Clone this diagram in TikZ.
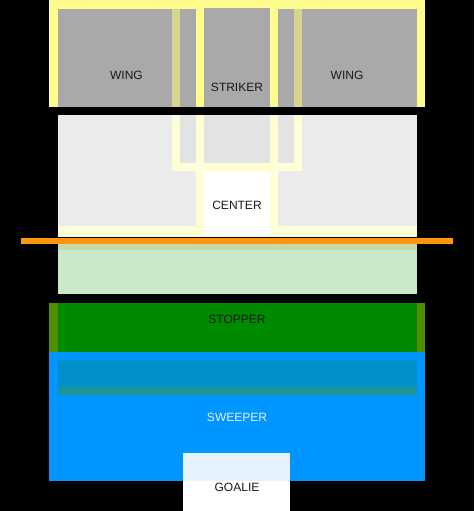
\documentclass[tikz,border=0pt]{standalone}
\usepackage{fontspec}
\setmainfont{Liberation Sans}
\usetikzlibrary{positioning}
\definecolor{pitchyellow}{HTML}{FFFC8E}
\definecolor{boxgray}{HTML}{A9A9A9}
\definecolor{stripe}{HTML}{D6D48E}
\definecolor{midgray}{HTML}{EBEBEB}
\definecolor{middark}{HTML}{E3E3E3}
\definecolor{paleyellow}{HTML}{FFFED6}
\definecolor{greenstrip}{HTML}{C3DBA9}
\definecolor{lightgreen}{HTML}{CCE8CB}
\definecolor{stopgreen}{HTML}{008A00}
\definecolor{olive}{HTML}{4F8F00}
\definecolor{sweepblue}{HTML}{0096FF}
\definecolor{bandblue}{HTML}{0090CC}
\definecolor{bandstrip}{HTML}{1F9494}
\definecolor{goalietop}{HTML}{E5F3FF}
\definecolor{halfwayorange}{HTML}{FF960F}
\tikzset{
  position/.style={font=\fontsize{12}{14}\selectfont, inner sep=0pt, text=black!90},
  halfway/.style={draw=halfwayorange, line width=6pt}
}
\newcommand\makezone{}
\def\makezone(#1)(#2)[#3]{%
  % Synopsis
  % \makezone(top left)(bottom right)[fill colour]
  \fill[#3] (#1) rectangle (#2);
}

\begin{document}
\begin{tikzpicture}[x=1pt, y=-1pt]
  \fill[black] (0,0) rectangle (474,511);
  % attack
  \makezone(49,0)(425,107)[pitchyellow]
  \makezone(58,9)(196,107)[boxgray]
  \makezone(278,9)(417,107)[boxgray]
  \makezone(204,8)(270,107)[boxgray]
  \makezone(172,9)(180,107)[stripe]
  \makezone(294,9)(302,107)[stripe]
  % midfield
  \makezone(58,115)(417,237)[paleyellow]
  \makezone(58,115)(196,226)[midgray]
  \makezone(278,115)(417,226)[midgray]
  \makezone(172,115)(180,171)[paleyellow]
  \makezone(294,115)(302,171)[paleyellow]
  \makezone(180,115)(196,163)[middark]
  \makezone(278,115)(294,163)[middark]
  \makezone(172,163)(302,171)[paleyellow]
  \makezone(196,115)(278,237)[paleyellow]
  \makezone(204,115)(270,163)[middark]
  \makezone(204,172)(270,236)[white]
  \makezone(58,243)(417,294)[lightgreen]
  \makezone(58,243)(417,250)[greenstrip]
  % defence
  \makezone(49,303)(425,352)[olive]
  \makezone(58,303)(417,352)[stopgreen]
  \makezone(49,352)(425,481)[sweepblue]
  \makezone(58,360)(417,387)[bandblue]
  \makezone(58,387)(417,395)[bandstrip]
  \makezone(183,453)(290,511)[white]
  \makezone(183,453)(290,481)[goalietop]
  \coordinate (H1) at (21,240.5);
  \coordinate (H2) at (453,240.5);
  \draw[halfway] (H1) -- (H2);
  \node[position] (wingL) at (126.5,75) {WING};
  \node[position] (wingR) at (347,75) {WING};
  \node[position] (striker) at (237,87) {STRIKER};
  \node[position] (center) at (237,205) {CENTER};
  \node[position, text=black!85!stopgreen] (stopper) at (237,319) {STOPPER};
  \node[position, text=goalietop] (sweeper) at (237,417) {SWEEPER};
  \node[position] (goalie) at (237,487) {GOALIE};
\end{tikzpicture}
\end{document}
